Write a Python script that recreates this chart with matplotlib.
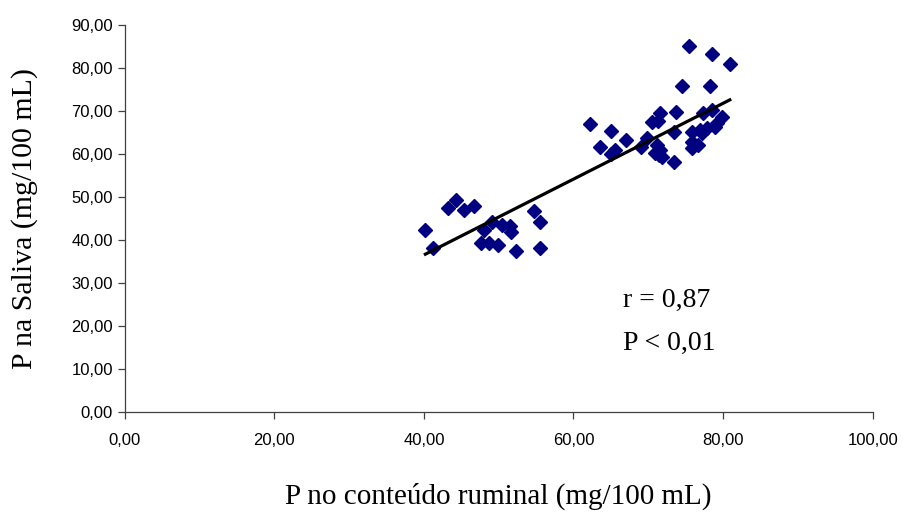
import numpy as np
import matplotlib
matplotlib.use("Agg")
import matplotlib.pyplot as plt
from matplotlib.ticker import FuncFormatter

# P no conteudo ruminal (x) e P na saliva (y), mg/100 mL
p_rumen = [40.2, 41.2, 43.2, 44.3, 45.3, 46.7, 47.7, 48.0, 48.7, 49.1,
           49.9, 50.4, 51.5, 51.7, 52.3, 54.7, 55.5, 55.5,
           62.2, 63.5, 65.0, 65.0, 65.5, 67.0, 69.0, 69.8, 70.5, 70.9,
           71.1, 71.3, 71.5, 71.5, 71.9, 71.4, 73.4, 73.5, 73.7, 74.5,
           75.5, 75.8, 75.8, 75.9, 76.6, 76.9, 77.2, 77.3, 77.8, 78.2,
           78.5, 78.5, 78.9, 79.2, 79.9, 80.9]
p_saliva = [42.3, 38.1, 47.4, 49.3, 47.0, 47.9, 39.3, 42.3, 39.3, 44.2,
            38.8, 43.5, 43.3, 41.9, 37.4, 46.7, 44.2, 38.1,
            66.9, 61.6, 65.3, 60.0, 60.9, 63.3, 61.6, 63.7, 67.4, 60.2,
            62.1, 67.7, 69.5, 60.9, 59.3, 59.8, 58.1, 65.1, 69.8, 75.8,
            85.1, 65.1, 61.4, 62.8, 62.1, 65.6, 65.0, 69.5, 66.0, 75.8,
            83.3, 70.2, 66.3, 67.2, 68.6, 80.9]

x = np.array(p_rumen)
y = np.array(p_saliva)

fig = plt.figure(figsize=(9.1, 5.12), dpi=100)
ax = fig.add_axes([0.137, 0.195, 0.822, 0.756])

ax.plot(x, y, linestyle='none', marker='D', markersize=7,
        color='#000080', markeredgecolor='#000080')

# linha de tendencia
a, b = np.polyfit(x, y, 1)
xl = np.array([x.min(), x.max()])
ax.plot(xl, a * xl + b, color='black', lw=2.3)

ax.set_xlim(0, 100)
ax.set_ylim(0, 90)
ax.set_xticks(np.arange(0, 101, 20))
ax.set_yticks(np.arange(0, 91, 10))
virg = FuncFormatter(lambda v, p: f"{v:.2f}".replace('.', ','))
ax.xaxis.set_major_formatter(virg)
ax.yaxis.set_major_formatter(virg)

for s in ['top', 'right']:
    ax.spines[s].set_visible(False)
for s in ['left', 'bottom']:
    ax.spines[s].set_color('#404040')
    ax.spines[s].set_linewidth(0.9)
ax.tick_params(direction='out', length=5, width=0.9, color='#404040',
               labelsize=12, labelcolor='black')
for lab in ax.get_xticklabels() + ax.get_yticklabels():
    lab.set_family('Liberation Sans')
ax.tick_params(axis='x', pad=10)

ax.set_xlabel('P no conteúdo ruminal (mg/100 mL)', family='Liberation Serif',
              fontsize=21, labelpad=25)
ax.set_ylabel('P na Saliva (mg/100 mL)', family='Liberation Serif',
              fontsize=21.5, labelpad=24)

ax.text(66.6, 26.0, 'r = 0,87', family='Liberation Serif', fontsize=20,
        va='center')
ax.text(66.6, 16.0, 'P < 0,01', family='Liberation Serif', fontsize=20,
        va='center')

fig.savefig('out.png', dpi=100)
